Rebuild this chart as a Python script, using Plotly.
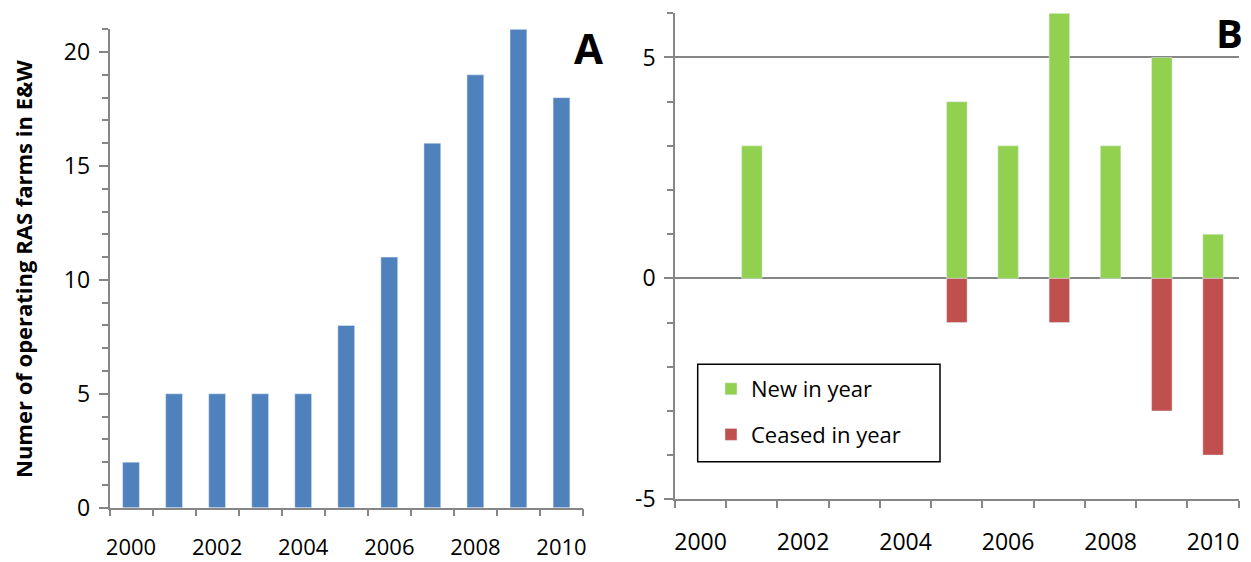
import plotly.graph_objects as go

# Panel A: operating RAS farms per year
years = [2000, 2001, 2002, 2003, 2004, 2005, 2006, 2007, 2008, 2009, 2010]
operating = [2, 5, 5, 5, 5, 8, 11, 16, 19, 21, 18]

# Panel B: farms started / ceased per year (None = no change that year)
new_in_year = [None, 3, None, None, None, 4, 3, 6, 3, 5, 1]
ceased_in_year = [None, None, None, None, None, -1, None, -1, None, -3, -4]

year_labels = [2000, 2002, 2004, 2006, 2008, 2010]
b_ticks = [-5, 0, 5]
b_ticktext = ["-5", "0", "5"]

BLUE = "#4F81BD"
GREEN = "#92D050"
RED = "#C0504D"
AXIS = "#868686"
FONT = "Open Sans"
W, H = 1251, 562

fig = go.Figure()

fig.add_trace(go.Bar(x=years, y=operating, marker_color=BLUE, width=0.39,
                     showlegend=False, xaxis="x", yaxis="y"))
fig.add_trace(go.Bar(x=years, y=new_in_year, name="New in year", marker_color=GREEN,
                     width=0.4, xaxis="x2", yaxis="y2", legendgroup="new"))
fig.add_trace(go.Bar(x=years, y=ceased_in_year, name="Ceased in year", marker_color=RED,
                     width=0.4, xaxis="x2", yaxis="y2", legendgroup="ceased"))


def px_x(p):
    return p / W


def px_y(p):
    return 1 - p / H


def xaxis_style(size):
    return dict(
        range=[1999.5, 2010.5], tickmode="array", tickvals=year_labels,
        ticks="outside", ticklen=0, showline=True, linecolor=AXIS, linewidth=1.5,
        showgrid=False, zeroline=False, automargin=False,
        tickfont=dict(family=FONT, size=size, color="black"),
        minor=dict(tick0=1999.5, dtick=1, ticks="outside", ticklen=7,
                   tickcolor=AXIS, tickwidth=1.5, showgrid=False),
        fixedrange=True,
    )


ycommon = dict(
    ticks="outside", ticklen=9, tickcolor=AXIS, tickwidth=1.5,
    showline=True, linecolor=AXIS, linewidth=1.5, zeroline=False, automargin=False,
    tickfont=dict(family=FONT, size=23, color="black"),
    minor=dict(tick0=0, dtick=1, ticks="outside", ticklen=6, tickcolor=AXIS,
               tickwidth=1.5, showgrid=False),
    ticklabelstandoff=4,
    fixedrange=True,
)

fig.update_layout(
    width=W, height=H,
    margin=dict(l=0, r=0, t=0, b=0),
    paper_bgcolor="white", plot_bgcolor="white",
    barmode="relative",
    font=dict(family=FONT, color="black"),
    xaxis=dict(domain=[px_x(109.5), px_x(583)], anchor="y", ticklabelstandoff=19,
               **xaxis_style(22)),
    yaxis=dict(domain=[px_y(507.7), px_y(29.3)], anchor="x", range=[0, 21],
               tick0=0, dtick=5, showgrid=False, **ycommon),
    xaxis2=dict(domain=[px_x(675), px_x(1238.7)], anchor="y2", ticklabelstandoff=21,
                **xaxis_style(23)),
    yaxis2=dict(domain=[px_y(499.3), px_y(13.3)], anchor="x2", range=[-5, 6],
                tickmode="array", tickvals=b_ticks, ticktext=b_ticktext,
                showgrid=True, gridcolor=AXIS, gridwidth=1.5, **ycommon),
    legend=dict(x=px_x(711), y=px_y(368), xanchor="left", yanchor="top",
                bgcolor="rgba(0,0,0,0)", borderwidth=0,
                font=dict(family=FONT, size=22, color="black"),
                traceorder="grouped", tracegroupgap=14),
    shapes=[dict(type="rect", xref="paper", yref="paper",
                 x0=px_x(697.7), x1=px_x(940), y0=px_y(461.7), y1=px_y(364.3),
                 line=dict(color="black", width=1.5), fillcolor="rgba(0,0,0,0)")],
    annotations=[
        dict(text="<b>Numer of operating RAS farms in E&amp;W</b>", textangle=-90,
             xref="paper", yref="paper", x=px_x(23), y=px_y(269),
             xanchor="center", yanchor="middle", showarrow=False,
             font=dict(family=FONT, size=22, color="black")),
        dict(text="<b>A</b>", xref="paper", yref="paper", x=px_x(588), y=px_y(48),
             xanchor="center", yanchor="middle", showarrow=False,
             font=dict(family=FONT, size=42, color="black")),
        dict(text="<b>B</b>", xref="paper", yref="paper", x=px_x(1229), y=px_y(33),
             xanchor="center", yanchor="middle", showarrow=False,
             font=dict(family=FONT, size=40, color="black")),
    ],
)

fig.write_html("out.html")
